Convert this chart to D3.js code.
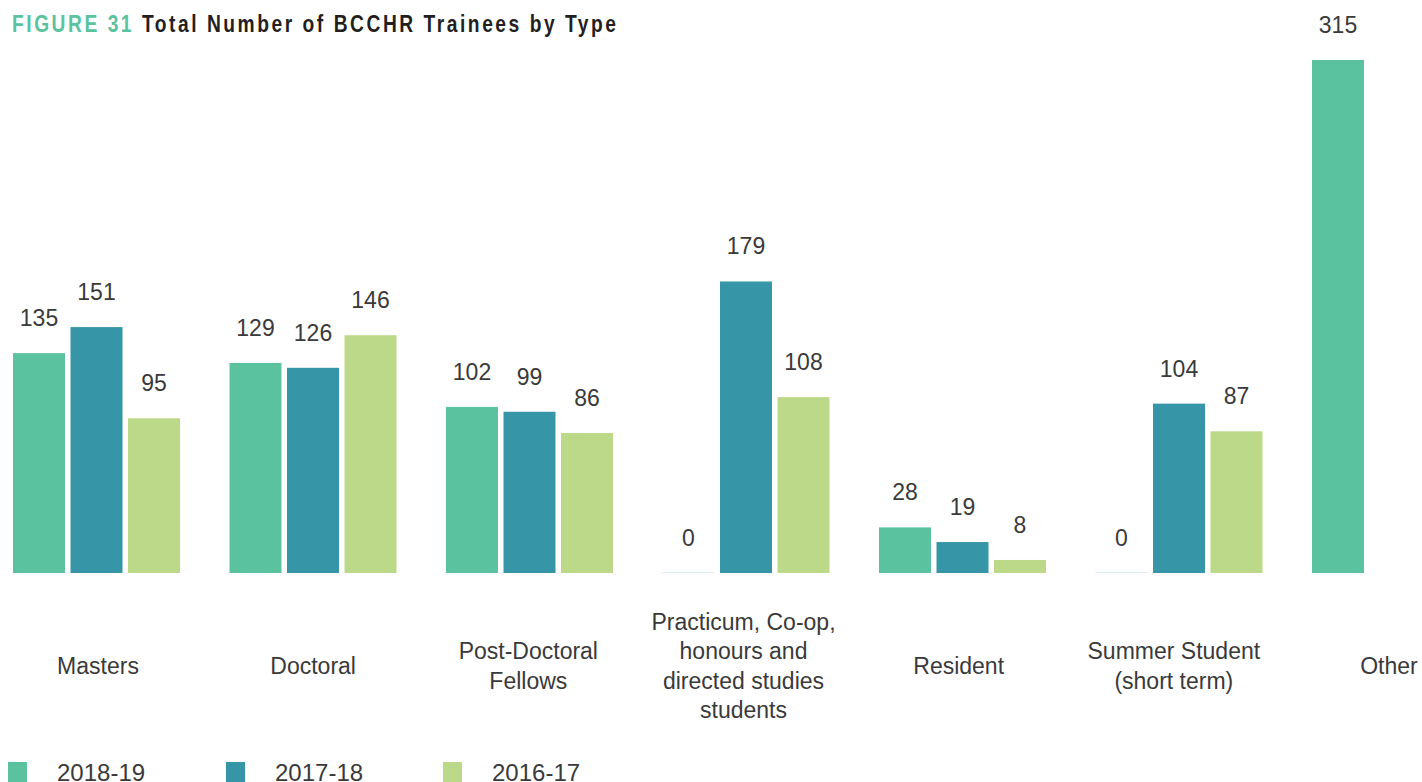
<!DOCTYPE html>
<html>
<head>
<meta charset="utf-8">
<script src="https://cdn.jsdelivr.net/npm/d3@7"></script>
<style>
  html, body { margin: 0; padding: 0; background: #fff; }
  svg { display: block; }
  text { font-family: "Liberation Sans", Arial, Helvetica, sans-serif; fill: #3a3a3a; }
  .title { font-family: "Liberation Sans", Arial, sans-serif; font-weight: bold; }
</style>
</head>
<body>
<div id="chart"></div>
<script>
// data
const categories = [
  ['Masters'],
  ['Doctoral'],
  ['Post-Doctoral', 'Fellows'],
  ['Practicum, Co-op,', 'honours and', 'directed studies', 'students'],
  ['Resident'],
  ['Summer Student', '(short term)'],
  ['Other']
]
const years = ['2018-19', '2017-18', '2016-17']
const values2018 = [135, 129, 102, 0, 28, 0, 315]
const values2017 = [151, 126, 99, 179, 19, 104, null]
const values2016 = [95, 146, 86, 108, 8, 87, null]
const colors = ['#5bc2a0', '#3795a8', '#bbd989']

const width = 1422, height = 782
const baseY = 573, topY = 60

const data = categories.map((c, i) => ({
  key: c.join(' '),
  lines: c,
  values: [values2018[i], values2017[i], values2016[i]]
}))

const svg = d3.select('#chart').append('svg')
    .attr('width', width)
    .attr('height', height)

// title, squeezed horizontally to look like a condensed face
const sx = 0.8
const title = svg.append('text')
    .attr('class', 'title')
    .attr('transform', 'translate(12,32) scale(' + sx + ',1)')
    .style('font-size', '24px')
title.append('tspan').style('fill', '#5bc2a0').text('FIGURE 31 ')
title.append('tspan').style('fill', '#231f20').text('Total Number of BCCHR Trainees by Type')
const tw = title.node().getComputedTextLength()
const nChars = 'FIGURE 31 Total Number of BCCHR Trainees by Type'.length
title.style('letter-spacing', Math.max(0, (604 / sx - tw) / (nChars - 1)) + 'px')

// scales
const step = 216.5
const x0 = d3.scaleBand()
    .domain(data.map(d => d.key))
    .range([13 - step * 0.1143, 13 - step * 0.1143 + step * 7])
    .paddingInner(0.2286)
    .paddingOuter(0.1143)

const x1 = d3.scaleBand()
    .domain(years)
    .range([0, x0.bandwidth()])
    .paddingInner(0.096)

// category labels sit on a slightly tighter spacing than the bar groups
const xLabel = d3.scalePoint()
    .domain(data.map(d => d.key))
    .range([98, 1389])

const y = d3.scaleLinear()
    .domain([0, d3.max(values2018)])
    .range([baseY, topY])

const groups = svg.append('g').selectAll('g')
    .data(data)
    .enter().append('g')
    .attr('transform', d => 'translate(' + x0(d.key) + ',0)')

const bars = groups.selectAll('g.bar')
    .data(d => d.values.map((v, i) => ({ year: years[i], value: v, i: i })).filter(e => e.value !== null))
    .enter().append('g')
    .attr('class', 'bar')

bars.append('rect')
    .attr('x', d => x1(d.year))
    .attr('width', x1.bandwidth())
    .attr('y', d => d.value === 0 ? baseY - 1 : y(d.value))
    .attr('height', d => d.value === 0 ? 1 : baseY - y(d.value))
    .attr('fill', d => colors[d.i])
    .attr('fill-opacity', d => d.value === 0 ? 0.25 : 1)

bars.append('text')
    .attr('x', d => x1(d.year) + x1.bandwidth() / 2)
    .attr('y', d => y(d.value) - 27)
    .attr('text-anchor', 'middle')
    .style('font-size', '23px')
    .text(d => d.value)

// category labels
const lineH = 29.5
svg.append('g').selectAll('text')
    .data(data)
    .enter().append('text')
    .attr('text-anchor', 'middle')
    .style('font-size', '23px')
    .selectAll('tspan')
    .data(d => d.lines.map((l, i) => ({ key: d.key, l: l, i: i, n: d.lines.length })))
    .enter().append('tspan')
    .attr('x', d => xLabel(d.key))
    .attr('y', d => 674 - (d.n - 1) * lineH / 2 + d.i * lineH)
    .text(d => d.l)

// legend
const legendX = [8, 226, 443]
const legend = svg.append('g').selectAll('g')
    .data(years)
    .enter().append('g')
    .attr('transform', (d, i) => 'translate(' + legendX[i] + ',762)')

legend.append('rect')
    .attr('width', 19)
    .attr('height', 20)
    .attr('fill', (d, i) => colors[i])

legend.append('text')
    .attr('x', 49)
    .attr('y', 19)
    .style('font-size', '24px')
    .text(d => d)
</script>
</body>
</html>
